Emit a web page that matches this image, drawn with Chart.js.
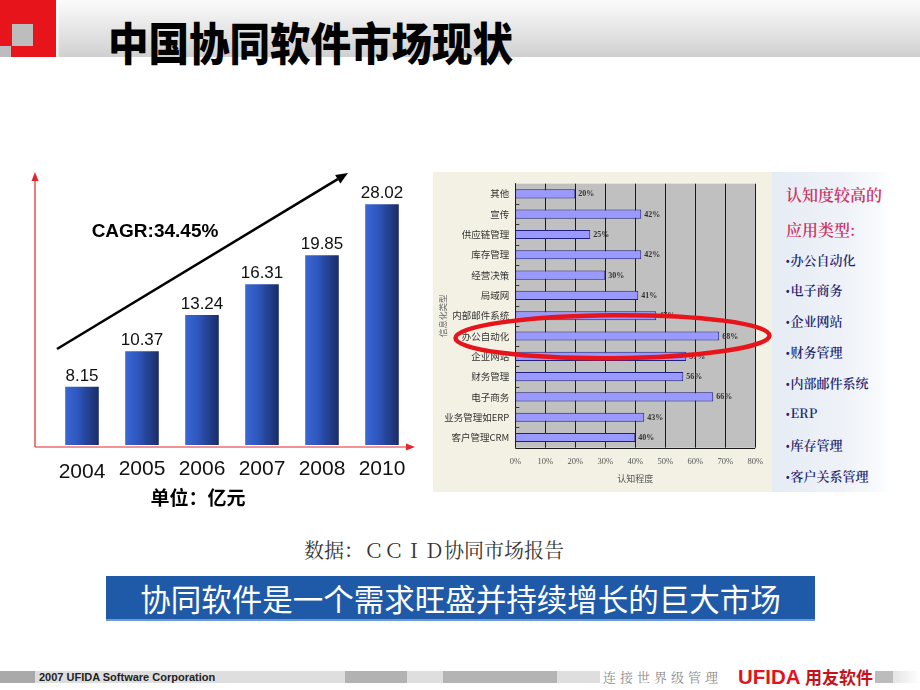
<!DOCTYPE html>
<html><head><meta charset="utf-8">
<script src="https://cdn.jsdelivr.net/npm/chart.js@4.4.1/dist/chart.umd.min.js"></script>
<style>
html,body{margin:0;padding:0;background:#fff;}
#page{position:relative;width:920px;height:690px;overflow:hidden;font-family:"Liberation Sans","Noto Sans CJK SC",sans-serif;}
.abs{position:absolute;}
#hdr{left:56px;top:0;width:864px;height:57px;background:linear-gradient(to bottom,#fbfbfb 0%,#e6e6e6 50%,#d0d0d0 100%);}
#hdrStrip{left:56px;top:0;width:4px;height:57px;background:linear-gradient(to right,#ffffff,rgba(255,255,255,0));}
#red{left:0;top:0;width:56px;height:57px;background:#e8141c;}
#sq1{left:12px;top:24px;width:21px;height:22px;background:#bdbdbd;}
#sq2{left:0;top:46px;width:11px;height:11px;background:#bdbdbd;}
#title{left:108px;top:14px;font-family:"Noto Sans CJK SC",sans-serif;font-weight:900;font-size:45px;line-height:56px;color:#000;transform:scaleX(0.9);transform-origin:left center;white-space:nowrap;}
#c1{left:0;top:150px;}
#c2{left:433px;top:172px;background:#f3f1e3;}
#side{left:772px;top:172px;width:118px;height:320px;background:linear-gradient(to right,#e6ecf4 0%,#eef2f8 60%,#f8fafc 90%,#ffffff 100%);}
.sideT{position:absolute;left:14px;font-family:"Noto Serif CJK SC","Noto Sans CJK SC",serif;font-weight:600;font-size:16px;color:#cc3366;white-space:nowrap;line-height:20px;}
.sideB{position:absolute;left:14px;font-family:"Noto Serif CJK SC","Noto Sans CJK SC",serif;font-weight:600;font-size:13px;color:#1e2370;white-space:nowrap;line-height:16px;}
.sideB b{font-family:"Liberation Sans",sans-serif;font-weight:bold;font-size:10px;margin-right:1px;}
#src{left:304px;top:538px;font-family:"Noto Serif CJK SC","Noto Sans CJK SC",serif;font-size:20px;line-height:24px;color:#333;white-space:nowrap;}
#banner{left:106px;top:576px;width:709px;height:43px;background:#1f5aa8;border-bottom:2px solid #6f9bd3;color:#fff;font-family:"Noto Sans CJK SC",sans-serif;font-size:30.5px;line-height:45px;text-align:center;white-space:nowrap;}
.fb{position:absolute;top:671px;height:12px;}
#ftxt{left:39px;top:670px;font-family:"Liberation Sans",sans-serif;font-weight:bold;font-size:11px;line-height:14px;color:#222;white-space:nowrap;}
#fslogan{left:603px;top:667px;font-family:"Noto Serif CJK SC","Noto Sans CJK SC",serif;font-size:13px;line-height:20px;color:#8a8a8a;letter-spacing:4px;white-space:nowrap;}
#fufida{left:738px;top:665px;font-family:"Liberation Sans",sans-serif;font-weight:bold;font-size:20.5px;line-height:24px;color:#e0141e;white-space:nowrap;}
#fyy{left:805px;top:666px;font-family:"Noto Sans CJK SC",sans-serif;font-weight:bold;font-size:17px;line-height:22px;color:#c4121a;white-space:nowrap;}
</style></head>
<body>
<div id="page">
  <div id="hdr" class="abs"></div>
  <div id="hdrStrip" class="abs"></div>
  <div id="red" class="abs"></div>
  <div id="sq1" class="abs"></div>
  <div id="sq2" class="abs"></div>
  <div id="title" class="abs">中国协同软件市场现状</div>

  <canvas id="c1" class="abs" width="430" height="380" style="width:430px;height:380px;"></canvas>
  <canvas id="c2" class="abs" width="339" height="320" style="width:339px;height:320px;"></canvas>

  <div id="side" class="abs">
    <div class="sideT" style="top:13px;">认知度较高的</div>
    <div class="sideT" style="top:48px;">应用类型:</div>
    <div class="sideB" style="top:80px;"><b>•</b>办公自动化</div>
    <div class="sideB" style="top:110px;"><b>•</b>电子商务</div>
    <div class="sideB" style="top:141px;"><b>•</b>企业网站</div>
    <div class="sideB" style="top:172px;"><b>•</b>财务管理</div>
    <div class="sideB" style="top:203px;"><b>•</b>内部邮件系统</div>
    <div class="sideB" style="top:233px;"><b>•</b>ERP</div>
    <div class="sideB" style="top:265px;"><b>•</b>库存管理</div>
    <div class="sideB" style="top:296px;"><b>•</b>客户关系管理</div>
  </div>

  <div id="src" class="abs">数据：ＣＣＩＤ协同市场报告</div>
  <div id="banner" class="abs">协同软件是一个需求旺盛并持续增长的巨大市场</div>

  <div class="fb" style="left:0;width:35px;background:#a9a9a9;"></div>
  <div class="fb" style="left:35px;width:310px;background:#dedede;"></div>
  <div class="fb" style="left:345px;width:62px;background:#b2b2b2;"></div>
  <div class="fb" style="left:407px;width:36px;background:#dedede;"></div>
  <div class="fb" style="left:443px;width:114px;background:#b4b4b4;"></div>
  <div class="fb" style="left:557px;width:43px;background:#dedede;"></div>
  <div class="fb" style="left:875px;width:18px;background:#bcbcbc;"></div>
  <div class="fb" style="left:893px;width:27px;background:linear-gradient(to right,#e4e4e4,#ffffff);"></div>
  <div id="ftxt" class="abs">2007 UFIDA Software Corporation</div>
  <div id="fslogan" class="abs">连接世界级管理</div>
  <div id="fufida" class="abs">UFIDA</div>
  <div id="fyy" class="abs">用友软件</div>
</div>

<script>
// ---- data ----
const years = ['2004', '2005', '2006', '2007', '2008', '2010'];
const marketSize = [8.15, 10.37, 13.24, 16.31, 19.85, 28.02];
const cagrLabel = 'CAGR:34.45%';
const unitLabel = '单位：亿元';

const appTypes = ['其他', '宣传', '供应链管理', '库存管理', '经营决策', '局域网', '内部邮件系统',
                  '办公自动化', '企业网站', '财务管理', '电子商务', '业务管理如ERP', '客户管理CRM'];
const awareness = [20, 42, 25, 42, 30, 41, 47, 68, 57, 56, 66, 43, 40];
const awarenessMin = 0, awarenessMax = 80, awarenessStep = 10;
const highlightType = '办公自动化';

// ---- left chart ----
const leftDeco = {
  id: 'leftDeco',
  afterDatasetsDraw(chart) {
    const { ctx, chartArea: ca } = chart;
    const xs = chart.scales.x;
    const meta = chart.getDatasetMeta(0);
    ctx.save();
    // red axes
    const ax = ca.left - 17, ay = ca.bottom + 2;
    ctx.strokeStyle = '#e3262e'; ctx.fillStyle = '#e3262e'; ctx.lineWidth = 1.2;
    ctx.beginPath();
    ctx.moveTo(ax, ay); ctx.lineTo(ax, 29);
    ctx.moveTo(ax, ay); ctx.lineTo(408, ay);
    ctx.stroke();
    ctx.beginPath(); ctx.moveTo(ax, 22); ctx.lineTo(ax - 3.5, 31); ctx.lineTo(ax + 3.5, 31); ctx.closePath(); ctx.fill();
    ctx.beginPath(); ctx.moveTo(415, ay); ctx.lineTo(406, ay - 3.5); ctx.lineTo(406, ay + 3.5); ctx.closePath(); ctx.fill();

    // black trend arrow
    const x0 = 57, y0 = 199, x1 = 348, y1 = 23;
    const L = Math.hypot(x1 - x0, y1 - y0), ux = (x1 - x0) / L, uy = (y1 - y0) / L;
    const bx = x1 - ux * 12, by = y1 - uy * 12;
    ctx.strokeStyle = '#000'; ctx.fillStyle = '#000'; ctx.lineWidth = 2.6;
    ctx.beginPath(); ctx.moveTo(x0, y0); ctx.lineTo(bx, by); ctx.stroke();
    ctx.beginPath(); ctx.moveTo(x1, y1); ctx.lineTo(bx - uy * 5, by + ux * 5); ctx.lineTo(bx + uy * 5, by - ux * 5); ctx.closePath(); ctx.fill();

    // CAGR text
    ctx.font = 'bold 19px "Liberation Sans", Arial, sans-serif';
    ctx.textAlign = 'center'; ctx.textBaseline = 'middle'; ctx.fillStyle = '#000';
    ctx.fillText(cagrLabel, 155, 82);

    // value labels
    ctx.font = '17px "Liberation Sans", Arial, sans-serif';
    ctx.textBaseline = 'alphabetic'; ctx.fillStyle = '#111';
    meta.data.forEach((el, i) => {
      ctx.fillText(marketSize[i].toFixed(2), el.x, el.y - 6);
    });

    // category labels
    ctx.font = '21px "Liberation Sans", Arial, sans-serif';
    ctx.textBaseline = 'middle'; ctx.fillStyle = '#111';
    years.forEach((y, i) => {
      ctx.fillText(y, xs.getPixelForValue(i), i === 0 ? 322 : 319);
    });

    // unit
    ctx.font = 'bold 19px "Noto Sans CJK SC", sans-serif';
    ctx.fillStyle = '#000';
    ctx.fillText(unitLabel, 198, 348);
    ctx.restore();
  }
};

function barGradient(context) {
  const chart = context.chart;
  const xs = chart.scales.x;
  if (!xs || !chart.chartArea) return '#2a52b0';
  const cx = xs.getPixelForValue(context.dataIndex);
  const half = 17;
  const g = chart.ctx.createLinearGradient(cx - half, 0, cx + half, 0);
  g.addColorStop(0, '#3a68d4');
  g.addColorStop(0.35, '#2f58c0');
  g.addColorStop(1, '#1a2c66');
  return g;
}

new Chart(document.getElementById('c1'), {
  type: 'bar',
  data: {
    labels: years,
    datasets: [{
      data: marketSize,
      backgroundColor: barGradient,
      borderWidth: 0,
      barPercentage: 0.7,
      categoryPercentage: 0.8
    }]
  },
  options: {
    responsive: false,
    animation: false,
    layout: { padding: { left: 52, right: 18, top: 21.5, bottom: 85 } },
    plugins: { legend: { display: false }, tooltip: { enabled: false } },
    scales: {
      x: { type: 'category', display: false },
      y: { type: 'logarithmic', display: false, min: 5.492, max: 35 }
    }
  },
  plugins: [leftDeco]
});

// ---- right chart ----
const rightDeco = {
  id: 'rightDeco',
  beforeDatasetsDraw(chart) {
    const { ctx, chartArea: ca } = chart;
    ctx.save();
    ctx.fillStyle = '#c0c0c0';
    ctx.fillRect(ca.left, ca.top, ca.right - ca.left, ca.bottom - ca.top);
    const xs = chart.scales.x;
    ctx.strokeStyle = '#1a1a1a'; ctx.lineWidth = 1;
    for (let v = awarenessMin; v <= awarenessMax; v += awarenessStep) {
      const px = Math.round(xs.getPixelForValue(v)) + 0.5;
      ctx.beginPath(); ctx.moveTo(px, ca.top); ctx.lineTo(px, ca.bottom); ctx.stroke();
    }
    ctx.beginPath(); ctx.moveTo(ca.left, Math.round(ca.bottom) + 0.5); ctx.lineTo(ca.right, Math.round(ca.bottom) + 0.5); ctx.stroke();
    const ys = chart.scales.y;
    ctx.strokeStyle = '#333';
    for (let i = 1; i < appTypes.length; i++) {
      const py = Math.round((ys.getPixelForValue(i - 1) + ys.getPixelForValue(i)) / 2) + 0.5;
      ctx.beginPath(); ctx.moveTo(ca.left, py); ctx.lineTo(ca.left + 4, py); ctx.stroke();
    }
    ctx.restore();
  },
  afterDatasetsDraw(chart) {
    const { ctx } = chart;
    const meta = chart.getDatasetMeta(0);
    ctx.save();
    ctx.font = 'bold 8px "Liberation Serif", serif';
    ctx.fillStyle = '#333'; ctx.textAlign = 'left'; ctx.textBaseline = 'middle';
    meta.data.forEach((el, i) => {
      ctx.fillText(awareness[i] + '%', el.x + 3, el.y + 0.5);
    });
    const ys = chart.scales.y;
    const cy = ys.getPixelForValue(appTypes.indexOf(highlightType)) + 0.7;
    ctx.strokeStyle = '#e8141c'; ctx.lineWidth = 4.5;
    ctx.beginPath();
    ctx.ellipse(179.5, cy, 157, 21.5, -0.008, 0, Math.PI * 2);
    ctx.stroke();
    ctx.restore();
  }
};

new Chart(document.getElementById('c2'), {
  type: 'bar',
  data: {
    labels: appTypes,
    datasets: [{
      data: awareness,
      backgroundColor: '#9999ff',
      borderColor: '#1f1f80',
      borderWidth: 1,
      borderSkipped: false,
      barPercentage: 0.45,
      categoryPercentage: 1
    }]
  },
  options: {
    indexAxis: 'y',
    responsive: false,
    animation: false,
    layout: { padding: { left: 0, right: 10.7, top: 5.3, bottom: 0 } },
    plugins: { legend: { display: false }, tooltip: { enabled: false } },
    scales: {
      x: {
        type: 'linear', min: awarenessMin, max: awarenessMax,
        ticks: { stepSize: awarenessStep, callback: v => v + '%', color: '#555',
                 font: { family: '"Liberation Serif", serif', size: 8.5 }, padding: 9, maxRotation: 0 },
        grid: { display: false, drawTicks: false },
        border: { display: false },
        title: { display: true, text: '认知程度', color: '#555',
                 font: { family: '"Noto Sans CJK SC", sans-serif', size: 9 }, padding: { top: 0, bottom: 8 } },
        afterFit: s => { s.height = 44.3; }
      },
      y: {
        type: 'category',
        ticks: { color: '#333', autoSkip: false, padding: 6,
                 font: { family: '"Noto Sans CJK SC", sans-serif', size: 9.5 } },
        grid: { display: false, drawTicks: false },
        border: { display: true, color: '#1a1a1a', width: 1 },
        title: { display: true, text: '信息化类型', color: '#666',
                 font: { family: '"Noto Sans CJK SC", sans-serif', size: 8.5 }, padding: { top: 5, bottom: 0 } },
        afterFit: s => { s.width = 82.3; }
      }
    }
  },
  plugins: [rightDeco]
});
</script>
</body></html>
